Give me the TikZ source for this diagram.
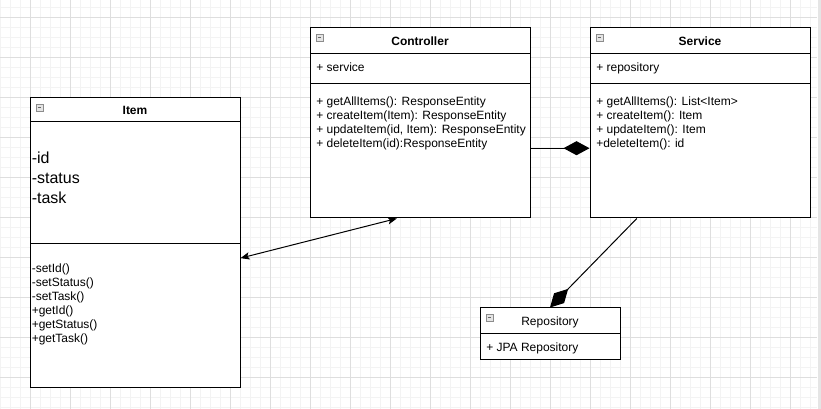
\documentclass[tikz,border=0pt]{standalone}
\usepackage{fontspec}
\setmainfont{Liberation Sans}
\usetikzlibrary{arrows.meta,calc}
\definecolor{gridminor}{HTML}{F3F3F3}
\definecolor{gridmajor}{HTML}{DEDEDE}
\definecolor{iconfill}{HTML}{E4E4E4}
\definecolor{iconline}{HTML}{8C8C8C}
\tikzstyle{classbox}=[
        draw=black,
        fill=white,
        line width=0.75pt,
        inner sep=0pt
]
\tikzstyle{compartment}=[
        line width=0.75pt
]
\tikzstyle{classtitle}=[
        anchor=base,
        inner sep=0pt,
        font=\fontsize{9}{10}\selectfont\bfseries
]
\tikzstyle{member}=[
        anchor=base west,
        inner sep=0pt,
        font=\fontsize{9}{10}\selectfont
]
\tikzstyle{field}=[
        anchor=base west,
        inner sep=0pt,
        font=\fontsize{12}{14}\selectfont
]
\tikzstyle{icon}=[
        draw=iconline,
        fill=iconfill,
        line width=0.5pt
]
\tikzstyle{association}=[
        line width=0.75pt,
        {Stealth[length=6.75pt,width=5.5pt,inset=1.5pt]}-{Stealth[length=6.75pt,width=5.5pt,inset=1.5pt]}
]
\tikzstyle{composition}=[
        line width=0.75pt,
        -{Diamond[length=19.5pt,width=10.5pt]}
]
\newcommand{\collapseicon}[1]{
        \draw[icon] (#1) rectangle ++(7,7);
        \draw[line width=0.75pt, black!60] (#1) ++(1.7,3.5) -- ++(3.6,0);
}

\begin{document}
\begin{tikzpicture}[x=0.75pt,y=-0.75pt]
                        \useasboundingbox (0,0) rectangle (821,409);
                        \fill[white] (0,0) rectangle (821,409);

                        % grid
                        \foreach \x in {0,10,...,810} {
                            \draw[gridminor, line width=0.75pt] (\x,0) -- (\x,409);
                        }
                        \foreach \y in {8,18,...,408} {
                            \draw[gridminor, line width=0.75pt] (0,\y) -- (817,\y);
                        }
                        \foreach \x in {30,70,...,790} {
                            \draw[gridmajor, line width=0.75pt] (\x,0) -- (\x,409);
                        }
                        \foreach \y in {18,58,...,378} {
                            \draw[gridmajor, line width=0.75pt] (0,\y) -- (817,\y);
                        }
                        \fill[black!10] (818,0) rectangle (821,409);

                        % Item
                        \node[classbox, minimum width=157.5pt, minimum height=217.5pt] (item) at (135,243) {};
                        \draw[compartment] (30,122) -- (240,122);
                        \draw[compartment] (30,244) -- (240,244);
                        \collapseicon{36,104}
                        \node[classtitle] (itemtitle) at (135,115) {Item};
                        \node[field] (itemid) at (31.5,164) {-id};
                        \node[field] (itemstatus) at (31.5,184) {-status};
                        \node[field] (itemtask) at (31.5,204) {-task};
                        \node[member] (setid) at (31.5,273) {-setId()};
                        \node[member] (setstatus) at (31.5,287) {-setStatus()};
                        \node[member] (settask) at (31.5,301) {-setTask()};
                        \node[member] (getid) at (31.5,315) {+getId()};
                        \node[member] (getstatus) at (31.5,329) {+getStatus()};
                        \node[member] (gettask) at (31.5,343) {+getTask()};

                        % Controller
                        \node[classbox, minimum width=165pt, minimum height=142.5pt] (controller) at (420,123) {};
                        \draw[compartment] (310,54) -- (530,54);
                        \draw[compartment] (310,84) -- (530,84);
                        \collapseicon{316,34}
                        \node[classtitle] (controllertitle) at (420,45.5) {Controller};
                        \node[member] (ctrlservice) at (316,72) {+ service};
                        \node[member] (ctrlgetall) at (316,106) {+ getAllItems(): ResponseEntity};
                        \node[member] (ctrlcreate) at (316,120) {+ createItem(Item): ResponseEntity};
                        \node[member] (ctrlupdate) at (316,134) {+ updateItem(id, Item): ResponseEntity};
                        \node[member] (ctrldelete) at (316,148) {+ deleteItem(id):ResponseEntity};

                        % Service
                        \node[classbox, minimum width=165pt, minimum height=142.5pt] (service) at (700,123) {};
                        \draw[compartment] (590,54) -- (810,54);
                        \draw[compartment] (590,84) -- (810,84);
                        \collapseicon{596,34}
                        \node[classtitle] (servicetitle) at (700,45.5) {Service};
                        \node[member] (servrepo) at (596,72) {+ repository};
                        \node[member] (servgetall) at (596,106) {+ getAllItems(): List<Item>};
                        \node[member] (servcreate) at (596,120) {+ createItem(): Item};
                        \node[member] (servupdate) at (596,134) {+ updateItem(): Item};
                        \node[member] (servdelete) at (596,148) {+deleteItem(): id};

                        % Repository
                        \node[classbox, minimum width=105pt, minimum height=39pt] (repository) at (550,334) {};
                        \draw[compartment] (480,334) -- (620,334);
                        \collapseicon{486,314}
                        \node[member, anchor=base] (repotitle) at (550,326) {Repository};
                        \node[member] (repojpa) at (486,351.5) {+ JPA Repository};

                        % connectors
                        \draw[association] ($(item.north east)!0.552!(item.south east)$) -- ($(controller.south west)!0.395!(controller.south east)$);
                        \draw[composition] ($(controller.north east)!0.632!(controller.south east)$) -- ($(service.north west)!0.632!(service.south west)$);
                        \draw[composition] ($(service.south west)!0.214!(service.south east)$) -- (repository.north);

                    \end{tikzpicture}
\end{document}
